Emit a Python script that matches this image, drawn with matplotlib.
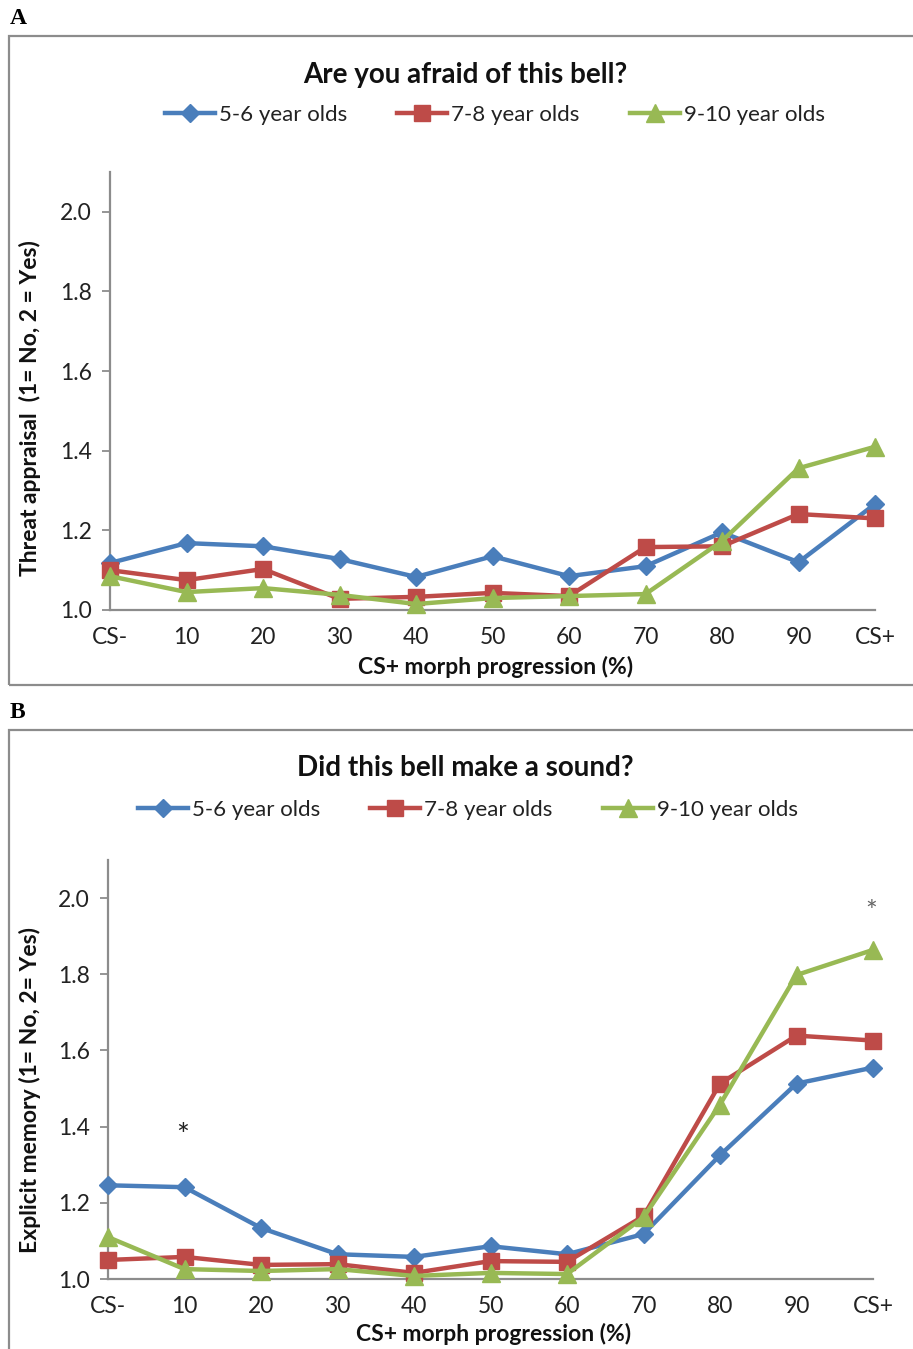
import matplotlib
matplotlib.use("Agg")
from matplotlib import pyplot as plt
from matplotlib.patches import Rectangle

plt.rcParams['font.family'] = ['Lato', 'DejaVu Sans']

# x categories
morph_labels = ["CS-", "10", "20", "30", "40", "50", "60", "70", "80", "90", "CS+"]
groups = ["5-6 year olds", "7-8 year olds", "9-10 year olds"]

# Panel A: threat appraisal
threat_56 = [1.118, 1.168, 1.160, 1.128, 1.083, 1.135, 1.085, 1.110, 1.195, 1.120, 1.266]
threat_78 = [1.100, 1.075, 1.103, 1.028, 1.033, 1.043, 1.035, 1.158, 1.160, 1.241, 1.230]
threat_910 = [1.085, 1.045, 1.055, 1.038, 1.015, 1.030, 1.035, 1.040, 1.173, 1.356, 1.410]

# Panel B: explicit memory
memory_56 = [1.246, 1.241, 1.134, 1.065, 1.058, 1.086, 1.065, 1.118, 1.325, 1.513, 1.555]
memory_78 = [1.050, 1.058, 1.037, 1.039, 1.016, 1.047, 1.045, 1.165, 1.513, 1.639, 1.626]
memory_910 = [1.110, 1.026, 1.021, 1.026, 1.008, 1.016, 1.013, 1.162, 1.458, 1.798, 1.864]

# significance stars (x index, y value, colour, size)
stars_b = [(1, 1.375, '#222222', 22), (10, 1.962, '#666666', 20)]

colors = ['#4a7ebb', '#be4b48', '#98b954']
markers = ['D', 's', '^']
msizes = [9, 12, 13]

W, H = 913, 1349
fig = plt.figure(figsize=(W / 100, H / 100), dpi=100)


def fx(px):
    return px / W


def fy(py):
    return 1 - py / H


def panel(letter, top, bottom, ax_box, title, ylabel, series, title_y, leg_y, leg_x,
          xlab_y, ylab_y):
    # outer frame
    fig.patches.append(Rectangle((fx(9), fy(bottom)), fx(930 - 9), fy(top) - fy(bottom),
                                 transform=fig.transFigure, fill=False,
                                 edgecolor='#8c8c8c', linewidth=1.6))
    fig.text(fx(10), fy(top - 18), letter, family='Liberation Serif', fontweight='bold',
             fontsize=17, va='center', ha='left')

    l, r, t, b = ax_box
    ax = fig.add_axes([fx(l), fy(b), fx(r) - fx(l), fy(t) - fy(b)])
    x = list(range(len(morph_labels)))
    handles = []
    for vals, c, m, ms, g in zip(series, colors, markers, msizes, groups):
        h, = ax.plot(x, vals, color=c, marker=m, markersize=ms, linewidth=3.2,
                     label=g, clip_on=False, zorder=3)
        handles.append(h)

    ax.set_xlim(0, 10)
    ax.set_ylim(1.0, 2.1)
    ax.set_yticks([1.0, 1.2, 1.4, 1.6, 1.8, 2.0])
    ax.set_yticklabels(['1.0', '1.2', '1.4', '1.6', '1.8', '2.0'])
    ax.set_xticks(x)
    ax.set_xticklabels(morph_labels)
    for s in ['top', 'right']:
        ax.spines[s].set_visible(False)
    for s in ['left', 'bottom']:
        ax.spines[s].set_color('#8c8c8c')
        ax.spines[s].set_linewidth(1.6)
    ax.tick_params(axis='y', length=6, width=1.3, color='#8c8c8c', labelsize=16.5,
                   labelcolor='#222222', pad=7)
    ax.tick_params(axis='x', length=0, labelsize=16.5, labelcolor='#222222', pad=12)

    fig.text(0.51, fy(title_y), title, fontsize=20, fontweight='bold', ha='center',
             va='center', color='#111111')
    fig.text(fx(30), fy(ylab_y), ylabel, rotation=90, fontsize=16.5,
             fontweight='bold', ha='center', va='center', color='#111111')
    fig.text(fx((l + r) / 2 + 3), fy(xlab_y), "CS+ morph progression (%)", fontsize=16.5,
             fontweight='bold', ha='center', va='center', color='#111111')

    leg = fig.legend(handles=handles, loc='center left',
                     bbox_to_anchor=(fx(leg_x), fy(leg_y)), ncol=3, frameon=False,
                     fontsize=16, handlelength=2.25, handletextpad=0.18,
                     columnspacing=2.25, borderpad=0, borderaxespad=0)
    for txt in leg.get_texts():
        txt.set_color('#222222')
    return ax


panel('A', 36, 685, (110, 875, 172, 610), "Are you afraid of this bell?",
      "Threat appraisal  (1= No, 2 = Yes)", [threat_56, threat_78, threat_910],
      75, 115, 165, 667, 408)

axb = panel('B', 730, 1400, (108, 873, 860, 1279), "Did this bell make a sound?",
            "Explicit memory (1= No, 2= Yes)", [memory_56, memory_78, memory_910],
            768, 810, 138, 1334, 1090)

for xi, yv, c, fs in stars_b:
    axb.text(xi - 0.02, yv, "*", ha='center', va='center', fontsize=fs, color=c)

plt.savefig('out.png', dpi=100)
